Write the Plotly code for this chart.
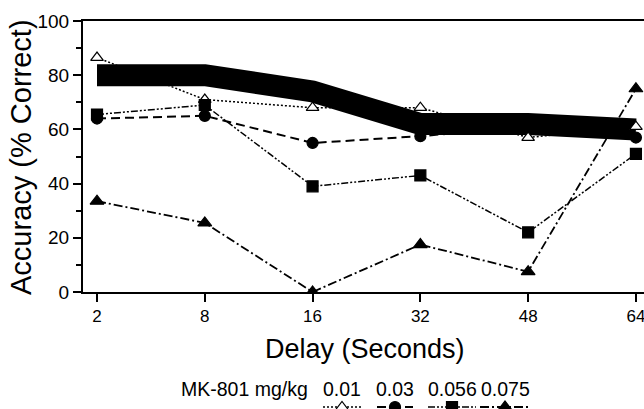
import plotly.graph_objects as go

# ---- data ----
delays = ["2", "8", "16", "32", "48", "64"]
baseline = [80, 80, 74, 62, 62, 60]
dose_labels = ["0.01", "0.03", "0.056", "0.075"]
acc_001 = [86.5, 71, 68, 68, 57, 61]
acc_003 = [64, 65, 55, 57.5, 61, 57]
acc_0056 = [65.5, 69, 39, 43, 22, 51]
acc_0075 = [33.5, 25.5, 0, 17.5, 7.5, 75]
y_ticks = [0, 20, 40, 60, 80, 100]

FONT = "Liberation Sans, Arial, Helvetica, sans-serif"
W, H = 644, 409
L, B, T = 83, 117, 21

styles = [
    dict(dash="2px,2px", width=1.5, symbol="triangle-up", fill="white", size=11),
    dict(dash="9px,5px", width=2, symbol="circle", fill="black", size=11),
    dict(dash="7px,2px,2px,2px,2px,2px", width=1.5, symbol="square", fill="black", size=11),
    dict(dash="9px,3px,2px,3px", width=1.8, symbol="triangle-up", fill="black", size=12),
]
series = [acc_001, acc_003, acc_0056, acc_0075]

fig = go.Figure()

# thick baseline band
fig.add_trace(go.Scatter(x=delays, y=baseline, mode="lines",
                         line=dict(color="black", width=22),
                         showlegend=False, hoverinfo="skip"))

for vals, st, name in zip(series, styles, dose_labels):
    fig.add_trace(go.Scatter(
        x=delays, y=vals, mode="lines+markers", name=name,
        line=dict(color="black", width=st["width"], dash=st["dash"]),
        marker=dict(symbol=st["symbol"], size=st["size"], color=st["fill"],
                    line=dict(color="black", width=1.2)),
        showlegend=False, cliponaxis=True))

# custom legend (layout positions in pixel space on an overlay axis)
leg_centers = [342, 395, 452, 505]
leg_half = [19, 18, 24, 25]
leg_y = 407
for (cx, hw), st in zip(zip(leg_centers, leg_half), styles):
    fig.add_trace(go.Scatter(x=[cx - hw, cx + hw], y=[leg_y, leg_y], mode="lines",
                             line=dict(color="black", width=st["width"], dash=st["dash"]),
                             xaxis="x2", yaxis="y2", showlegend=False, hoverinfo="skip"))
    fig.add_trace(go.Scatter(x=[cx], y=[leg_y], mode="markers",
                             marker=dict(symbol=st["symbol"], size=st["size"], color=st["fill"],
                                         line=dict(color="black", width=1.2)),
                             xaxis="x2", yaxis="y2", showlegend=False, hoverinfo="skip"))

annotations = [
    dict(text="MK-801 mg/kg", x=244, y=389, xref="x2", yref="y2", showarrow=False,
         font=dict(family=FONT, size=19.5, color="black")),
]
for cx, lab in zip(leg_centers, dose_labels):
    annotations.append(dict(text=lab, x=cx, y=389, xref="x2", yref="y2", showarrow=False,
                            font=dict(family=FONT, size=19.5, color="black")))
annotations.append(dict(text="Delay (Seconds)", x=365, y=349, xref="x2", yref="y2",
                        showarrow=False, font=dict(family=FONT, size=27, color="black")))
annotations.append(dict(text="Accuracy (% Correct)", x=21, y=157, xref="x2", yref="y2",
                        showarrow=False, textangle=-90,
                        font=dict(family=FONT, size=29, color="black")))

fig.update_layout(
    width=W, height=H,
    margin=dict(l=0, r=0, t=0, b=0, autoexpand=False),
    paper_bgcolor="white", plot_bgcolor="rgba(0,0,0,0)",
    showlegend=False,
    annotations=annotations,
    xaxis=dict(type="category", domain=[L / W, 1.0], range=[-0.13, 5.075],
               automargin=False, ticklabeloverflow="allow",
               showline=True, linecolor="black", linewidth=2, mirror=True,
               ticks="outside", ticklen=8, tickwidth=1.5, tickcolor="black",
               showgrid=False, zeroline=False, anchor="y",
               tickfont=dict(family=FONT, size=17, color="black")),
    yaxis=dict(domain=[B / H, 1 - T / H], range=[0, 100],
               automargin=False,
               tickvals=y_ticks,
               showline=True, linecolor="black", linewidth=2, mirror=False,
               ticks="outside", ticklen=8, tickwidth=1.5, tickcolor="black",
               ticklabelstandoff=0,
               minor=dict(dtick=10, ticks="outside", ticklen=5, tickcolor="black", tickwidth=1.5),
               showgrid=False, zeroline=False, anchor="x",
               tickfont=dict(family=FONT, size=19, color="black")),
    xaxis2=dict(domain=[0, 1], range=[0, W], visible=False, anchor="y2", fixedrange=True,
                automargin=False),
    yaxis2=dict(domain=[0, 1], range=[H, 0], visible=False, anchor="x2", fixedrange=True,
                automargin=False),
)

fig.write_html("out.html", config={"displayModeBar": False},
               post_script="document.body.style.margin='0px';document.body.style.padding='0px';")
